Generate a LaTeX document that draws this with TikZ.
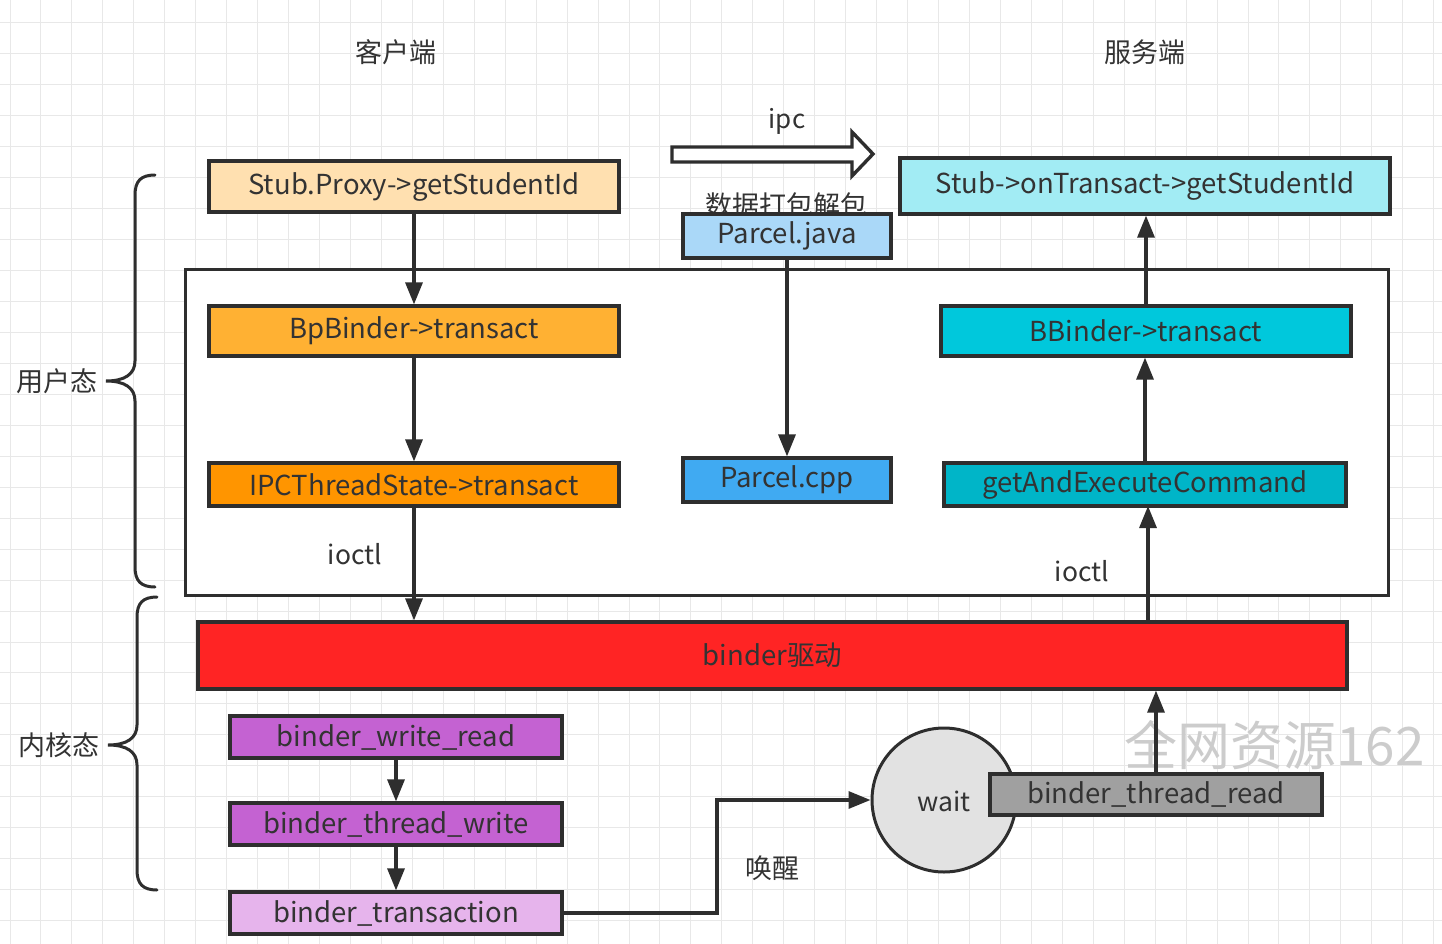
\documentclass[tikz,border=0pt]{standalone}
\usepackage{fontspec}
\setmainfont{Noto Sans CJK SC}
\usetikzlibrary{arrows.meta}
\definecolor{txt}{HTML}{333333}
\definecolor{edge}{HTML}{2E2E2E}
\definecolor{gridc}{HTML}{E8E8E8}
\definecolor{cSP}{HTML}{FFE0B0}
\definecolor{cSO}{HTML}{A2ECF4}
\definecolor{cPJ}{HTML}{AAD8F8}
\definecolor{cBP}{HTML}{FFB133}
\definecolor{cBB}{HTML}{00C8DC}
\definecolor{cIPC}{HTML}{FF9500}
\definecolor{cPC}{HTML}{40AAF2}
\definecolor{cGE}{HTML}{00B5C8}
\definecolor{cBD}{HTML}{FF2424}
\definecolor{cPU}{HTML}{C462D2}
\definecolor{cPL}{HTML}{E6B4EC}
\definecolor{cWT}{HTML}{E2E2E2}
\definecolor{cTR}{HTML}{A0A0A0}
\tikzset{
  blk/.style={draw=edge, line width=3.2pt, rectangle, inner sep=0pt, text=txt,
    font=\fontsize{27.5}{32}\selectfont},
  arr/.style={draw=edge, line width=3.2pt, -{Triangle[length=22pt,width=17pt]}},
  lbl/.style={text=txt, font=\fontsize{27}{32}\selectfont, inner sep=0pt},
  brc/.style={draw=edge, line width=3pt, line cap=round},
}
\begin{document}
\begin{tikzpicture}[x=1pt,y=-1pt]
\useasboundingbox (0,0) rectangle (1442,944);
\fill[white] (0,0) rectangle (1442,944);
% grid
\foreach \i in {0,...,46} \draw[gridc, line width=1pt] (10+\i*30.95,0) -- (10+\i*30.95,944);
\foreach \j in {0,...,29} \draw[gridc, line width=1pt] (0,23+\j*30.95) -- (1442,23+\j*30.95);

% headers
\node[lbl] (client) at (396,52) {客户端};
\node[lbl] (server) at (1145,52) {服务端};
\node[lbl, font=\fontsize{26}{30}\selectfont] (ipcl) at (787,121) {ipc};
\draw[draw=edge, line width=3.4pt, fill=white, line join=miter]
  (672,147) -- (852,147) -- (852,132) -- (873,154) -- (852,176) -- (852,162) -- (672,162) -- cycle;

% braces
\draw[brc] (155,175) .. controls (141,175) and (135,181) .. (135,195) -- (135,361)
  .. controls (135,374) and (125,381) .. (106,381)
  .. controls (125,381) and (135,388) .. (135,401) -- (135,567)
  .. controls (135,581) and (141,587) .. (155,587);
\draw[brc] (157,597) .. controls (143,597) and (137,603) .. (137,617) -- (137,725)
  .. controls (137,738) and (127,745) .. (108,745)
  .. controls (127,745) and (137,752) .. (137,765) -- (137,870)
  .. controls (137,884) and (143,890) .. (157,890);
\node[lbl] (user) at (57,381) {用户态};
\node[lbl] (kern) at (59,745) {内核态};

% big frame
\node[draw=edge, line width=3pt, fill=white, minimum width=1203pt, minimum height=326pt, inner sep=0pt] (frame) at (786.5,432) {};

% top row
\node[blk, fill=cSP, minimum width=410pt, minimum height=51pt] (sp) at (414,186.5) {Stub.Proxy->getStudentId};
\node[blk, fill=cSO, minimum width=490pt, minimum height=56pt] (so) at (1145,186) {Stub->onTransact->getStudentId};
\node[lbl] (pack) at (786,205) {数据打包解包};
\node[blk, fill=cPJ, minimum width=208pt, minimum height=44pt] (pj) at (787,236) {Parcel.java};

% user space boxes
\node[blk, fill=cBP, minimum width=410pt, minimum height=50pt] (bp) at (414,331) {BpBinder->transact};
\node[blk, fill=cBB, minimum width=410pt, minimum height=50pt] (bb) at (1146,331) {BBinder->transact};
\node[blk, fill=cIPC, minimum width=410pt, minimum height=43pt] (ipc) at (414,484.5) {IPCThreadState->transact};
\node[blk, fill=cPC, minimum width=208pt, minimum height=44pt] (pc) at (787,480) {Parcel.cpp};
\node[blk, fill=cGE, minimum width=402pt, minimum height=43pt] (ge) at (1145,484.5) {getAndExecuteCommand};
\node[lbl, font=\fontsize{26.5}{30}\selectfont] (io1) at (355,554) {ioctl};
\node[lbl, font=\fontsize{26.5}{30}\selectfont] (io2) at (1082,571) {ioctl};

% driver
\node[blk, fill=cBD, minimum width=1149pt, minimum height=67pt] (bd) at (772.5,655.5) {binder驱动};

% kernel boxes
\node[blk, fill=cPU, minimum width=332pt, minimum height=42pt] (bwr) at (396,737) {binder\_write\_read};
\node[blk, fill=cPU, minimum width=332pt, minimum height=42pt] (btw) at (396,824) {binder\_thread\_write};
\node[blk, fill=cPL, minimum width=332pt, minimum height=42pt] (bt) at (396,913) {binder\_transaction};

% watermark
\node[anchor=west, text=black!20, font=\fontsize{53}{56}\selectfont, inner sep=0pt] (wm) at (1124,745) {全网资源162};

\node[draw=edge, line width=3pt, fill=cWT, circle, minimum size=144pt, inner sep=0pt] (wt) at (944,800) {};
\node[lbl, font=\fontsize{26.5}{30}\selectfont] (wtl) at (944,801) {wait};
\node[blk, fill=cTR, minimum width=332pt, minimum height=41pt] (btr) at (1156,794.5) {binder\_thread\_read};
\node[lbl] (wake) at (772,868) {唤醒};

% connectors
\draw[arr] (sp.south) -- (bp.north);
\draw[arr] (bp.south) -- (ipc.north);
\draw[arr] (ipc.south) -- (ipc.south |- bd.north);
\draw[arr] (pj.south) -- (pc.north);
\draw[arr] (bd.north -| 1148,0) -- (1148,506);
\draw[arr] (ge.north) -- (ge.north |- bb.south);
\draw[arr] (bb.north) -- (bb.north |- so.south);
\draw[arr] (btr.north) -- (btr.north |- bd.south);
\draw[arr] (bwr.south) -- (btw.north);
\draw[arr] (btw.south) -- (bt.north);
\coordinate (bend) at (717,913);
\draw[arr] (bt.east) -- (bend) |- (wt.west);
\end{tikzpicture}
\end{document}
